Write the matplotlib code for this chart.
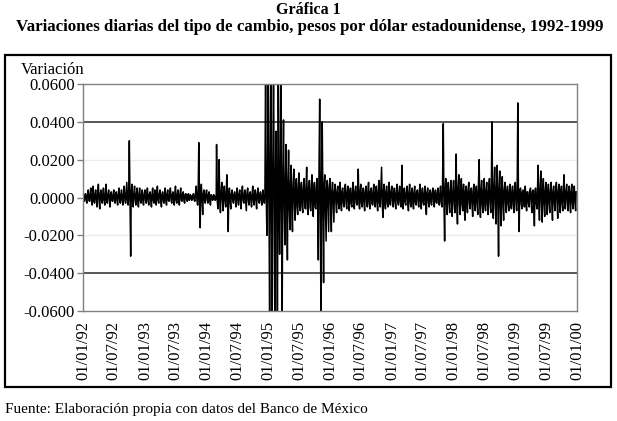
import numpy as np
import matplotlib.pyplot as plt
import matplotlib.dates as mdates
from matplotlib.patches import Rectangle

plt.rcParams['font.family'] = ['Liberation Serif', 'DejaVu Serif']

# variacion diaria (milesimas): maximo y minimo por quincena
hi92 = [3, 2, 4, 5, 6, 4, 7, 4, 5, 7, 4, 3, 4, 3, 5, 4, 6, 8, 30, 7, 6, 5, 5, 4]
lo92 = [-2, -3, -2, -4, -3, -5, -6, -3, -4, -3, -5, -2, -3, -4, -3, -4, -3, -4, -31, -5, -4, -5, -3, -4]
hi93 = [4, 5, 3, 5, 4, 6, 4, 3, 5, 4, 5, 3, 6, 4, 5, 3, 2, 2, 1, 2, 6, 29, 7, 4]
lo93 = [-3, -4, -5, -3, -4, -3, -5, -3, -4, -2, -3, -4, -3, -4, -2, -3, -2, -1, -1, -2, -4, -16, -9, -3]
hi94 = [4, 3, 1, 1, 28, 20, 8, 6, 12, 5, 4, 3, 5, 4, 6, 4, 5, 3, 6, 4, 5, 3, 4, 70]
lo94 = [-3, -4, -1, -1, -6, -8, -7, -5, -18, -6, -3, -5, -4, -6, -3, -7, -4, -5, -4, -6, -3, -4, -3, -20]
hi95 = [70, 70, 70, 35, 70, 70, 41, 28, 25, 17, 15, 10, 13, 8, 10, 16, 9, 12, 8, 10, 52, 40, 12, 9]
lo95 = [-70, -70, -70, -70, -30, -70, -25, -33, -17, -18, -12, -9, -7, -8, -6, -9, -7, -10, -6, -33, -70, -45, -23, -18]
hi96 = [10, 8, 7, 6, 8, 5, 7, 6, 5, 8, 6, 15, 7, 5, 6, 8, 5, 7, 6, 9, 16, 7, 6, 8]
lo96 = [-18, -13, -8, -6, -7, -5, -6, -7, -5, -6, -4, -6, -5, -7, -5, -6, -4, -5, -7, -5, -10.5, -6, -5, -4]
hi97 = [6, 5, 7, 6, 17, 5, 6, 7, 5, 6, 4, 7, 5, 6, 5, 4, 5, 4, 5, 6, 39, 10, 8, 9]
lo97 = [-5, -6, -4, -5, -6, -4, -7, -5, -6, -4, -5, -6, -4, -9, -5, -4, -5, -3, -4, -5, -23, -9, -8, -10]
hi98 = [9, 23, 12, 10, 7, 6, 8, 5, 7, 6, 20, 9, 10, 8, 10, 40, 16, 17, 14, 11, 8, 6, 7, 6]
lo98 = [-8, -14, -9, -7, -12, -8, -6, -10, -7, -9, -10.5, -8, -7, -9, -8, -11, -14, -31, -15, -12, -8, -7, -6, -8]
hi99 = [8, 50, 5, 4, 6, 3, 5, 4, 5, 17, 14, 10, 8, 7, 8, 6, 8, 7, 6, 12, 7, 6, 7, 6]
lo99 = [-7, -18, -6, -5, -7, -5, -8, -15, -6, -12, -13, -10, -9, -8, -12, -7, -11, -8, -7, -6, -7, -8, -6, -7]

# ancho tipico de la banda central por ano (milesimas)
anios = [1992, 1993, 1994, 1995, 1996, 1997, 1998, 1999]
nucleo = [1.5, 1.5, 1.5, 5, 3, 2.5, 3.5, 3]

hi = hi92 + hi93 + hi94 + hi95 + hi96 + hi97 + hi98 + hi99
lo = lo92 + lo93 + lo94 + lo95 + lo96 + lo97 + lo98 + lo99

fechas = []
valores = []
for n in range(len(hi)):
    y = anios[n // 24]
    c = nucleo[n // 24]
    m = (n % 24) // 2 + 1
    d = 1 if n % 2 == 0 else 16
    for dd, v in [(d, hi[n]), (d + 4, -c), (d + 8, lo[n]), (d + 11, c)]:
        fechas.append(np.datetime64(f'{y}-{m:02d}-{dd:02d}'))
        valores.append(v / 1000)

W, H = 617, 421
fig = plt.figure(figsize=(W / 100, H / 100), dpi=100)

fig.text(308 / W, 1 - 10 / H, 'Gráfica 1', ha='center', va='center', fontsize=11.5, fontweight='bold')
fig.text(310 / W, 1 - 27 / H, 'Variaciones diarias del tipo de cambio, pesos por dólar estadounidense, 1992-1999',
         ha='center', va='center', fontsize=12.2, fontweight='bold')
fig.patches.append(Rectangle((5 / W, 1 - 387 / H), 606 / W, 332 / H, fill=False, lw=1.6,
                             edgecolor='black', transform=fig.transFigure))
fig.text(21 / W, 1 - 70 / H, 'Variación', ha='left', va='center', fontsize=12)
fig.text(5 / W, 1 - 409 / H, 'Fuente: Elaboración propia con datos del Banco de México',
         ha='left', va='center', fontsize=11)

ax = fig.add_axes([83 / W, 1 - 311 / H, 494 / W, 227 / H])
for g in [-0.02, 0.0, 0.02]:
    ax.axhline(g, color='#ececec', lw=1, zorder=0)
for g in [-0.04, 0.04]:
    ax.axhline(g, color='#3a3a3a', lw=1.2, zorder=0)
ax.plot(fechas, valores, color='black', lw=1.1)

ax.set_ylim(-0.06, 0.06)
ax.set_xlim(np.datetime64('1992-01-01'), np.datetime64('2000-01-01'))
ticks = [np.datetime64(f'{y}-{m:02d}-01') for y in range(1992, 2000) for m in (1, 7)]
ticks.append(np.datetime64('2000-01-01'))
ax.set_xticks(ticks)
ax.xaxis.set_major_formatter(mdates.DateFormatter('%d/%m/%y'))
ax.set_yticks([-0.06, -0.04, -0.02, 0.0, 0.02, 0.04, 0.06])
ax.set_yticklabels(['-0.0600', '-0.0400', '-0.0200', '0.0000', '0.0200', '0.0400', '0.0600'])
ax.tick_params(axis='x', length=0, pad=7, labelsize=12, labelrotation=90)
ax.tick_params(axis='y', length=4, width=1, color='#808080', pad=2, labelsize=12)
for s in ax.spines.values():
    s.set_color('#808080')
    s.set_linewidth(1)

fig.savefig('out.png', dpi=100)
